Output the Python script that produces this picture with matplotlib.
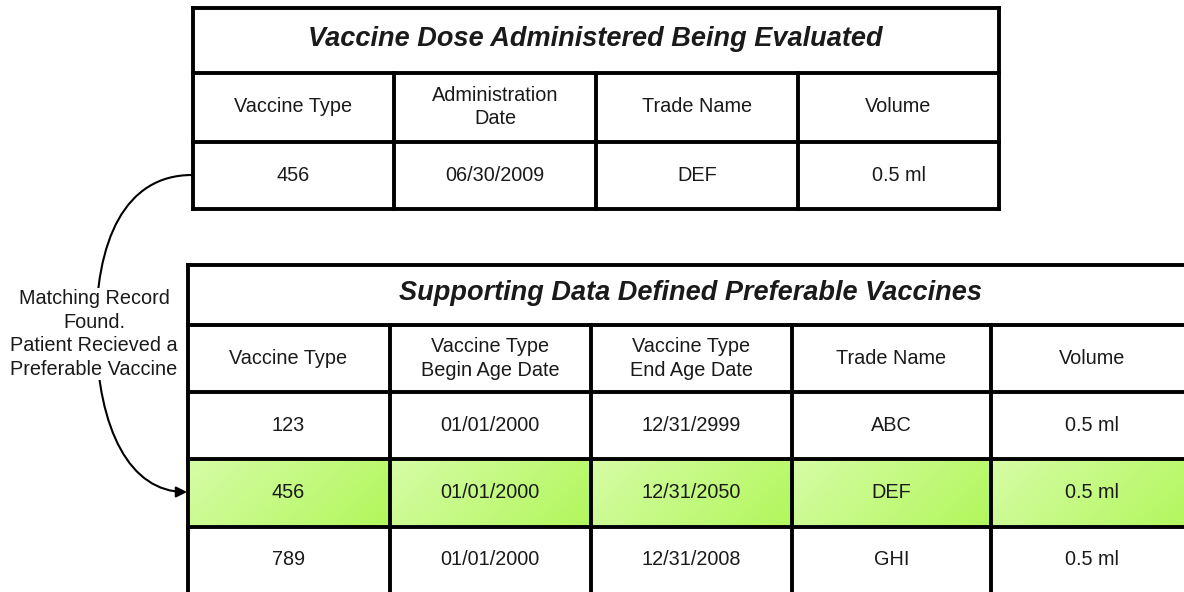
import numpy as np
import matplotlib; matplotlib.use("Agg")
import matplotlib.pyplot as plt
from matplotlib.patches import FancyArrowPatch
from matplotlib.path import Path

plt.rcParams.update({"font.family": ["Liberation Sans", "DejaVu Sans"]})

# ---- data ----
top_title = "Vaccine Dose Administered Being Evaluated"
top_headers = ["Vaccine Type", "Administration\nDate", "Trade Name", "Volume"]
top_rows = [["456", "06/30/2009", "DEF", "0.5 ml"]]

bot_title = "Supporting Data Defined Preferable Vaccines"
bot_headers = ["Vaccine Type", "Vaccine Type\nBegin Age Date", "Vaccine Type\nEnd Age Date",
               "Trade Name", "Volume"]
bot_rows = [["123", "01/01/2000", "12/31/2999", "ABC", "0.5 ml"],
            ["456", "01/01/2000", "12/31/2050", "DEF", "0.5 ml"],
            ["789", "01/01/2000", "12/31/2008", "GHI", "0.5 ml"]]
match_row = 1
note = "Matching Record\nFound.\nPatient Recieved a\nPreferable Vaccine"

W, H = 1184, 592
fig = plt.figure(figsize=(W/100, H/100), dpi=100)
ax = fig.add_axes([0, 0, 1, 1])
ax.set_xlim(0, W); ax.set_ylim(H, 0); ax.axis("off")

LW = 2.8
TXT = "#1a1a1a"
FS = 14.3


def green_cell(x0, x1, y0, y1):
    gx, gy = np.meshgrid(np.linspace(0, 1, 60), np.linspace(0, 1, 20))
    t = np.clip(0.75*gx + 0.25*gy, 0, 1)[..., None]
    c0 = np.array([214, 252, 166]) / 255
    c1 = np.array([178, 247, 92]) / 255
    img = c0*(1-t) + c1*t
    ax.imshow(img, extent=(x0, x1, y1, y0), aspect="auto", zorder=1, interpolation="bilinear")


def draw_table(xs, ys, title, headers, rows, hl=None, open_bottom=False):
    # ys: [top, title bottom, header bottom, row bottoms...]
    for r, row in enumerate(rows):
        y0, y1 = ys[3+r-1], ys[3+r]
        for c, val in enumerate(row):
            if r == hl:
                green_cell(xs[c], xs[c+1], y0, y1)
            ax.text((xs[c]+xs[c+1])/2, (y0+y1)/2, val, ha="center", va="center",
                    fontsize=FS, color=TXT, zorder=3)
    ax.text((xs[0]+xs[-1])/2, (ys[0]+ys[1])/2 - 1.5, title, ha="center", va="center",
            fontsize=19.5, fontweight="bold", fontstyle="italic", color=TXT, zorder=3)
    for c, h in enumerate(headers):
        ax.text((xs[c]+xs[c+1])/2, (ys[1]+ys[2])/2, h, ha="center", va="center",
                fontsize=FS, color=TXT, linespacing=1.3, zorder=3)
    # borders
    hlines = ys[:-1] if open_bottom else ys
    for y in hlines:
        ax.plot([xs[0], xs[-1]], [y, y], color="black", lw=LW, zorder=4, solid_capstyle="projecting")
    ax.plot([xs[0], xs[0]], [ys[0], ys[-1]], color="black", lw=LW, zorder=4, solid_capstyle="projecting")
    ax.plot([xs[-1], xs[-1]], [ys[0], ys[-1]], color="black", lw=LW, zorder=4, solid_capstyle="projecting")
    for x in xs[1:-1]:
        ax.plot([x, x], [ys[1], ys[-1]], color="black", lw=LW, zorder=4)


draw_table([192.5, 394, 596, 798, 999], [7.5, 72.5, 141.5, 209],
           top_title, top_headers, top_rows)
draw_table([187.5, 389.5, 591, 792, 991, 1193], [265, 325, 391.5, 459, 526.5, 592],
           bot_title, bot_headers, bot_rows, hl=match_row, open_bottom=True)

# connector curve
verts = [(192, 175), (125, 175), (95, 240), (96, 335),
         (98, 430), (130, 492), (187, 492)]
codes = [Path.MOVETO, Path.CURVE4, Path.CURVE4, Path.CURVE4,
         Path.CURVE4, Path.CURVE4, Path.CURVE4]
arrow = FancyArrowPatch(path=Path(verts, codes), arrowstyle="-|>", mutation_scale=16,
                        color="black", lw=1.5, zorder=2)
ax.add_patch(arrow)
ax.text(94, 334, note, ha="center", va="center", fontsize=FS, color=TXT,
        linespacing=1.3, zorder=3,
        bbox=dict(boxstyle="square,pad=0.05", fc="white", ec="none"))

fig.savefig("out.png", dpi=100)
